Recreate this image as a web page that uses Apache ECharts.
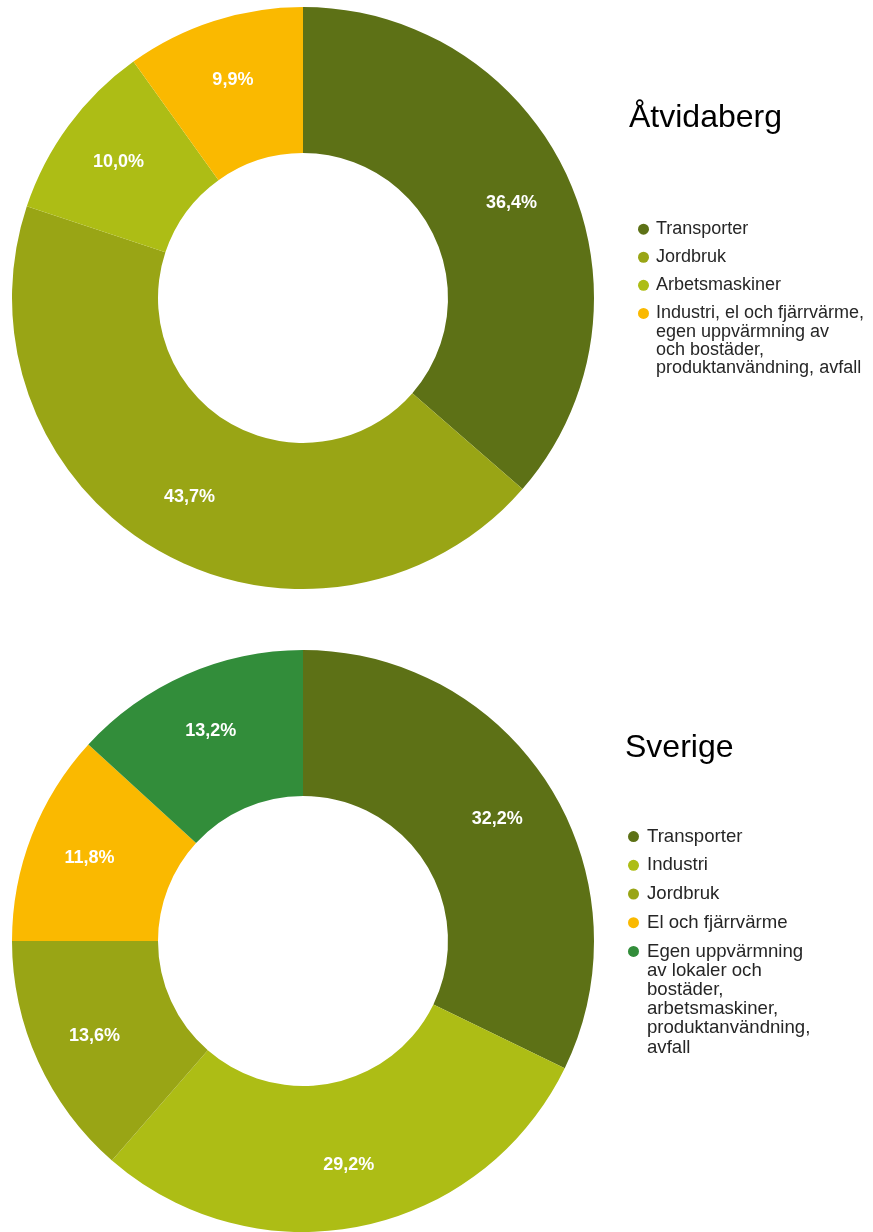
<!DOCTYPE html>
<html lang="sv">
<head>
    <meta charset="UTF-8">
    <title>Utsläpp per sektor</title>
    <script src="https://cdn.jsdelivr.net/npm/echarts@6/dist/echarts.min.js"></script>
    <style>
        body { margin: 0; background: #fff; }
        #container { width: 873px; height: 1232px; }
    </style>
</head>
<body>
    <div id="container"></div>
    <script>
        // Åtvidaberg
        var atvCategories = ['Transporter', 'Jordbruk', 'Arbetsmaskiner',
            'Industri, el och fjärrvärme, egen uppvärmning av och bostäder, produktanvändning, avfall'];
        var atvValues = [36.4, 43.7, 10.0, 9.9];
        var atvLegendLines = [
            ['Transporter'],
            ['Jordbruk'],
            ['Arbetsmaskiner'],
            ['Industri, el och fjärrvärme,', 'egen uppvärmning av', 'och bostäder,', 'produktanvändning, avfall']
        ];
        var atvColors = ['#5d7116', '#99a515', '#adbd15', '#fab900'];

        // Sverige
        var sveCategories = ['Transporter', 'Industri', 'Jordbruk', 'El och fjärrvärme',
            'Egen uppvärmning av lokaler och bostäder, arbetsmaskiner, produktanvändning, avfall'];
        var sveValues = [32.2, 29.2, 13.6, 11.8, 13.2];
        var sveLegendLines = [
            ['Transporter'],
            ['Industri'],
            ['Jordbruk'],
            ['El och fjärrvärme'],
            ['Egen uppvärmning', 'av lokaler och', 'bostäder,', 'arbetsmaskiner,', 'produktanvändning,', 'avfall']
        ];
        var sveColors = ['#5d7116', '#adbd15', '#99a515', '#fab900', '#328d3a'];

        var FONT = '"Liberation Sans", Arial, sans-serif';
        var chart = echarts.init(document.getElementById('container'));

        // legend: marker drawn as rich-text dot so it sits on the first line
        function makeLegend(cats, lines, colors, left, top, fontSize, lineHeight, gap, textGap) {
            var rich = {
                g: { width: textGap, lineHeight: lineHeight },
                s: { width: 11 + textGap, lineHeight: lineHeight },
                t: { fontSize: fontSize, lineHeight: lineHeight, color: '#262626', fontFamily: FONT }
            };
            colors.forEach(function (c, i) {
                rich['d' + i] = { width: 11, height: 11, borderRadius: 5.5, backgroundColor: c, lineHeight: lineHeight };
            });
            return {
                orient: 'vertical',
                left: left,
                top: top,
                padding: 0,
                itemGap: gap,
                itemWidth: 0,
                itemHeight: lineHeight,
                icon: 'none',
                selectedMode: false,
                data: cats,
                formatter: function (name) {
                    var idx = cats.indexOf(name);
                    return lines[idx].map(function (l, i) {
                        return i === 0 ? '{d' + idx + '|}{g|}{t|' + l + '}' : '{s|}{t|' + l + '}';
                    }).join('\n');
                },
                textStyle: { fontSize: fontSize, lineHeight: lineHeight, color: '#262626', rich: rich }
            };
        }

        function makePie(cats, values, colors, cx, cy) {
            return {
                type: 'pie',
                center: [cx, cy],
                radius: [145, 291],
                startAngle: 90,
                clockwise: true,
                avoidLabelOverlap: false,
                silent: true,
                data: cats.map(function (c, i) {
                    return { name: c, value: values[i], itemStyle: { color: colors[i] } };
                }),
                label: {
                    position: 'inside',
                    color: '#fff',
                    fontWeight: 'bold',
                    fontSize: 18,
                    fontFamily: FONT,
                    formatter: function (p) {
                        return p.value.toFixed(1).replace('.', ',') + '%';
                    }
                },
                labelLine: { show: false },
                labelLayout: function (p) {
                    var r = p.labelRect;
                    var lx = r.x + r.width / 2, ly = r.y + r.height / 2;
                    var k = 226 / 218;
                    return { x: cx + (lx - cx) * k, y: cy + (ly - cy) * k };
                }
            };
        }

        chart.setOption({
            animation: false,
            textStyle: { fontFamily: FONT },
            title: [
                { text: 'Åtvidaberg', left: 629, top: 101, padding: 0,
                  textStyle: { fontSize: 32, fontWeight: 'normal', color: '#000', lineHeight: 34 } },
                { text: 'Sverige', left: 625, top: 731, padding: 0,
                  textStyle: { fontSize: 32, fontWeight: 'normal', color: '#000', lineHeight: 34 } }
            ],
            legend: [
                makeLegend(atvCategories, atvLegendLines, atvColors, 633, 220, 18, 18.3, 9.8, 7),
                makeLegend(sveCategories, sveLegendLines, sveColors, 623, 827, 18.6, 19.2, 9.5, 8)
            ],
            series: [
                makePie(atvCategories, atvValues, atvColors, 303, 298),
                makePie(sveCategories, sveValues, sveColors, 303, 941)
            ]
        });
    </script>
</body>
</html>
